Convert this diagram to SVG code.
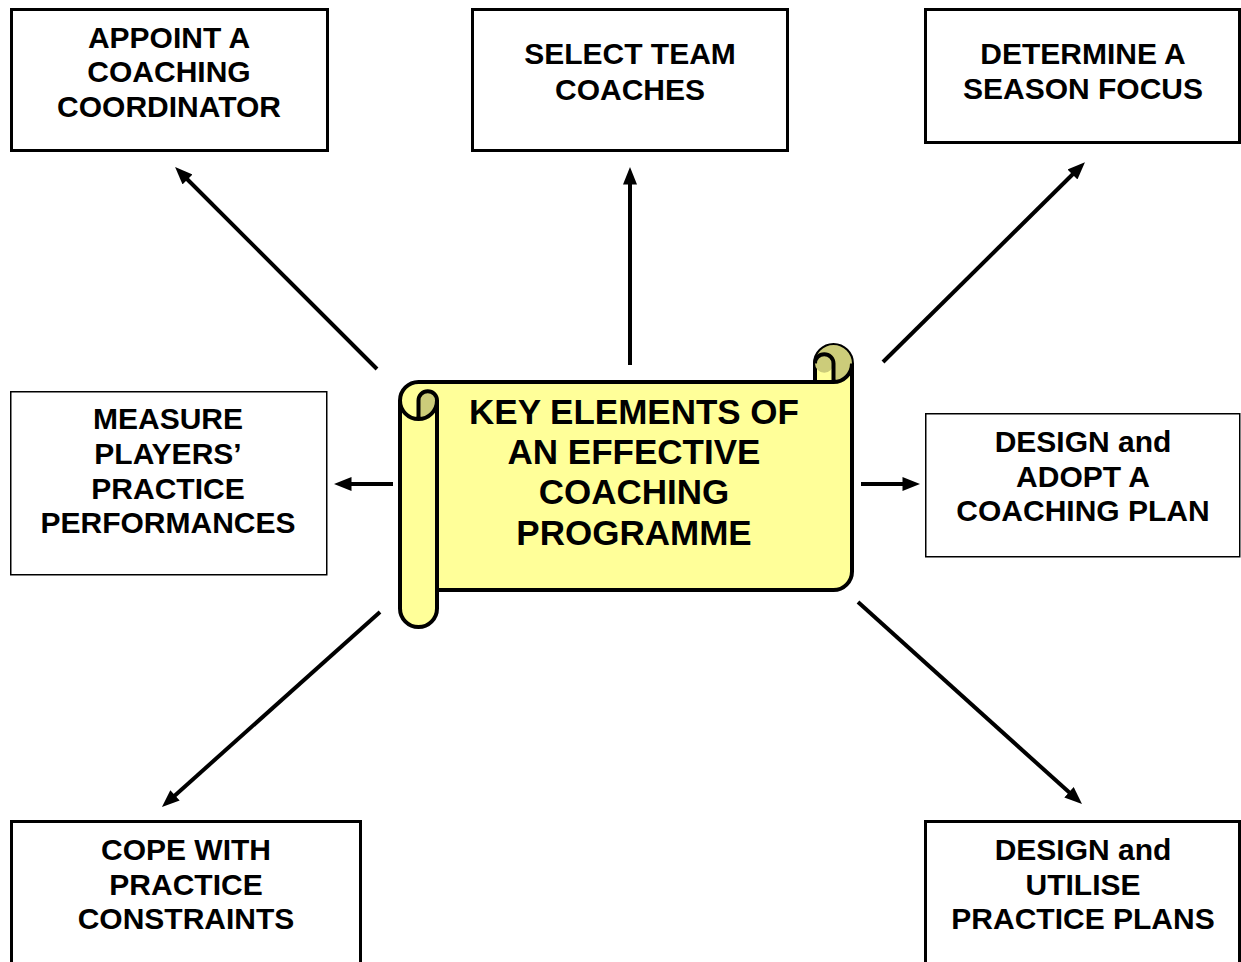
<svg xmlns="http://www.w3.org/2000/svg" width="1241" height="962" viewBox="0 0 1241 962">
<defs>
<style>
.box{fill:#fff;stroke:#000;stroke-width:3}
.thin{stroke-width:1.5}
.t{font-family:"Liberation Sans",Arial,sans-serif;font-weight:bold;font-size:30px;text-anchor:middle;fill:#000}
.big{font-size:35px}
.conn{stroke:#000;stroke-width:4;fill:none;marker-end:url(#ah)}
.scroll{fill:#ffff99;stroke:#000;stroke-width:4;stroke-linejoin:round}
.dark{fill:#cccc7a;stroke:none}
.ln{fill:none;stroke:#000;stroke-width:4;stroke-linejoin:round}
</style>
<marker id="ah" viewBox="0 0 10 8" refX="2" refY="4" markerWidth="18" markerHeight="14" markerUnits="userSpaceOnUse" orient="auto">
<path d="M0,0 L10,4 L0,8 Z" fill="#000"/>
</marker>
</defs>
<rect width="1241" height="962" fill="#fff"/>

<g id="connectors">
<line class="conn" x1="377" y1="369" x2="185" y2="177"/>
<line class="conn" x1="630" y1="365" x2="630" y2="181"/>
<line class="conn" x1="883" y1="362" x2="1075" y2="172"/>
<line class="conn" x1="393" y1="484" x2="348" y2="484"/>
<line class="conn" x1="861" y1="484" x2="906" y2="484"/>
<line class="conn" x1="380" y1="612" x2="172.4" y2="797.7"/>
<line class="conn" x1="858" y1="602" x2="1071.6" y2="794.6"/>
</g>

<g id="center">
<path class="scroll" d="M400,400.5 A18.5,18.5 0 0 1 418.5,382 L815,382 L815,363.5 A18.5,18.5 0 0 1 852,363.5 L852,571.5 A18.5,18.5 0 0 1 833.5,590 L437,590 L437,608.5 A18.5,18.5 0 0 1 400,608.5 Z"/>
<path class="dark" d="M815,363.5 A18.5,18.5 0 0 1 852,363.5 A18.5,18.5 0 0 1 833.5,382 L833.5,363.5 A9.25,9.25 0 0 1 815,363.5 Z"/>
<path class="dark" d="M418.5,419 L418.5,400.5 A9.25,9.25 0 0 1 437,400.5 A18.5,18.5 0 0 1 418.5,419 Z"/>
<path class="ln" d="M815,382 L833.5,382 A18.5,18.5 0 0 0 852,363.5 M833.5,382 L833.5,363.5 A9.25,9.25 0 0 0 815,363.5"/>
<path class="ln" d="M418.5,419 L418.5,400.5 A9.25,9.25 0 0 1 437,400.5 A18.5,18.5 0 0 1 400,400.5 M437,400.5 L437,590"/>
<text class="t big" x="634" y="423.5">KEY ELEMENTS OF</text>
<text class="t big" x="634" y="463.5">AN EFFECTIVE</text>
<text class="t big" x="634" y="503.5">COACHING</text>
<text class="t big" x="634" y="544.5">PROGRAMME</text>
</g>

<g id="n1">
<rect class="box" x="11.5" y="9.5" width="316" height="141"/>
<text class="t" x="169" y="47.5">APPOINT A</text>
<text class="t" x="169" y="82">COACHING</text>
<text class="t" x="169" y="116.5">COORDINATOR</text>
</g>

<g id="n2">
<rect class="box" x="472.5" y="9.5" width="315" height="141"/>
<text class="t" x="630" y="63.5">SELECT TEAM</text>
<text class="t" x="630" y="99.5">COACHES</text>
</g>

<g id="n3">
<rect class="box" x="925.5" y="9.5" width="314" height="133"/>
<text class="t" x="1083" y="63.5">DETERMINE A</text>
<text class="t" x="1083" y="98.5">SEASON FOCUS</text>
</g>

<g id="n4">
<rect class="box thin" x="10.75" y="391.75" width="316" height="183"/>
<text class="t" x="168" y="428.5">MEASURE</text>
<text class="t" x="168" y="463.5">PLAYERS’</text>
<text class="t" x="168" y="498.5">PRACTICE</text>
<text class="t" x="168" y="532.5">PERFORMANCES</text>
</g>

<g id="n5">
<rect class="box thin" x="925.75" y="413.75" width="314" height="143"/>
<text class="t" x="1083" y="451.5">DESIGN and</text>
<text class="t" x="1083" y="486.5">ADOPT A</text>
<text class="t" x="1083" y="520.5">COACHING PLAN</text>
</g>

<g id="n6">
<rect class="box" x="11.5" y="821.5" width="349" height="150"/>
<text class="t" x="186" y="859.5">COPE WITH</text>
<text class="t" x="186" y="894.5">PRACTICE</text>
<text class="t" x="186" y="928.5">CONSTRAINTS</text>
</g>

<g id="n7">
<rect class="box" x="925.5" y="821.5" width="314" height="150"/>
<text class="t" x="1083" y="859.5">DESIGN and</text>
<text class="t" x="1083" y="894.5">UTILISE</text>
<text class="t" x="1083" y="928.5">PRACTICE PLANS</text>
</g>
</svg>
